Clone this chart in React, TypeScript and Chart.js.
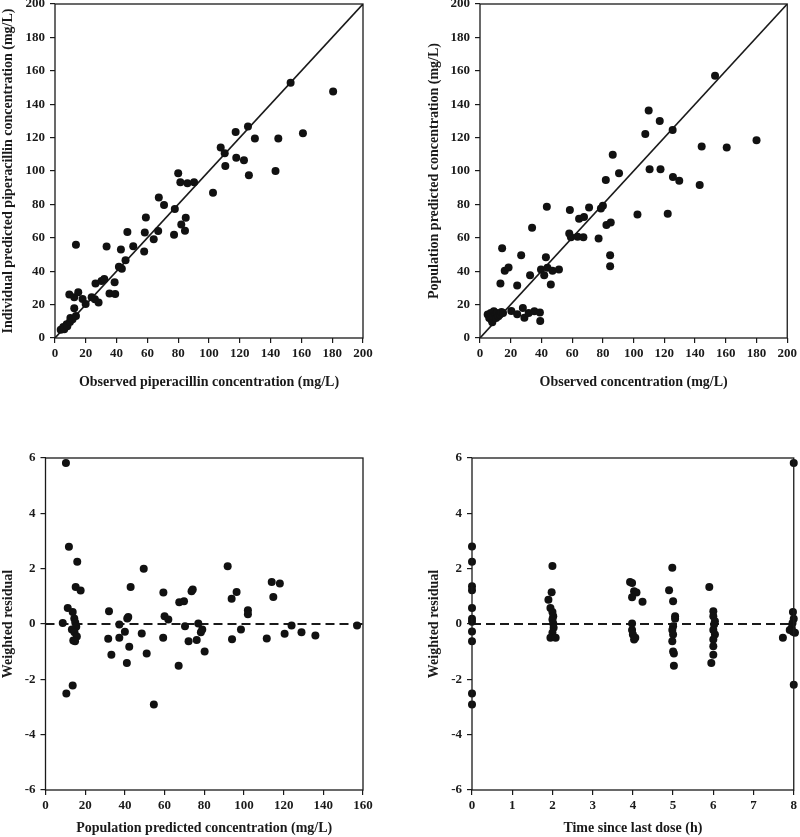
import React, { useEffect, useRef } from 'react';
import { Chart, registerables } from 'chart.js';
Chart.register(...registerables);

// Panel 1: observed vs individual predicted
const obs1 = [3.7, 5.4, 6, 7.6, 8, 9.7, 10, 11.4, 13.6, 12.5, 9.3, 12.5, 15.1, 17.9, 19.9, 23.8, 25.9, 28.3, 13.6, 26.3, 30.2, 32, 38.7, 35.4, 39.1, 33.5, 41.5, 43.4, 45.8, 42.8, 50.8, 57.9, 47, 58.3, 59, 64.1, 67, 67.4, 70.8, 77.3, 77.8, 80, 81.4, 82, 84.4, 84.9, 86, 90.3, 102.6, 107.6, 110.2, 110.6, 117.3, 117.7, 122.7, 125.3, 125.9, 129.8, 143.2, 145, 153, 161, 180.6];
const ipred1 = [5, 6.6, 5.2, 8.2, 7, 9.6, 12, 11.2, 13.2, 17.8, 26, 24.4, 27.4, 23.4, 20.4, 24.4, 23.2, 21.2, 55.8, 32.6, 34.2, 35.4, 33.4, 26.6, 26.4, 54.8, 42.6, 41.4, 46.6, 53, 55, 51.8, 63.4, 63.2, 72.2, 59.2, 64, 84.2, 79.6, 61.8, 77.2, 98.6, 93.2, 68, 64.2, 72, 92.6, 93.2, 87, 114, 110.6, 103, 123.4, 108, 106.4, 126.6, 97.4, 119.4, 100, 119.4, 152.8, 122.6, 147.6];

// Panel 2: observed vs population predicted
const obs2 = [5, 6, 6.5, 7, 7.5, 8, 8.5, 9, 10, 10.5, 11, 12, 13, 14, 15, 20.4, 24.2, 27.9, 28.9, 31.7, 35.4, 39, 39.2, 13.3, 24.2, 32.6, 39.7, 41.8, 43.9, 47.2, 51.4, 46.1, 16.1, 18.6, 14.4, 26.8, 42.9, 33.9, 43.5, 58.5, 71, 80, 78.7, 64.5, 67.7, 58.1, 59.2, 63.5, 67.3, 77.2, 82.3, 85.1, 84.7, 84.7, 81.9, 86.4, 90.5, 102.5, 107.6, 109.8, 110.4, 117, 117.5, 122.2, 125.4, 125.6, 129.7, 143, 144.3, 153, 160.6, 180];
const pred2 = [14, 12, 13, 15, 11, 9.5, 13, 16, 14, 12, 15, 13, 14, 15.5, 15, 16.2, 14.2, 18, 12.2, 15, 16, 15.2, 10.2, 32.6, 31.4, 37.6, 41, 37.6, 42, 40.2, 41, 32, 40.2, 42.2, 53.8, 49.6, 48.4, 66, 78.6, 76.6, 78.2, 79.2, 77.6, 71.4, 72.4, 62.6, 60.4, 60.6, 60.4, 59.6, 67.6, 69.2, 49.6, 43, 94.6, 109.8, 98.6, 74, 122.2, 136.2, 101, 130, 101, 74.4, 124.6, 96.4, 94.2, 91.6, 114.6, 157, 114, 118.4];

// Panel 3: population predicted vs weighted residual
const pred3 = [10.3, 11.8, 16, 15.2, 17.7, 11.2, 13.7, 8.7, 14.5, 15, 15.5, 13.3, 14.6, 15.8, 14, 14.9, 13.7, 10.5, 32, 31.6, 33.2, 37.2, 37.2, 40, 41.2, 41.7, 42.2, 41, 42.9, 48.5, 49.5, 51, 54.6, 59.4, 60, 61.9, 59.3, 67.1, 67.4, 69.8, 73.6, 74.2, 70.3, 72.1, 77, 76.2, 78.3, 80.2, 79, 91.8, 96.3, 93.8, 94, 98.5, 102, 102, 111.5, 114, 118.1, 114.8, 120.5, 124, 129, 136, 157];
const wres3 = [5.82, 2.79, 2.25, 1.34, 1.21, 0.58, 0.43, 0.04, 0.2, 0.05, -0.1, -0.2, -0.3, -0.45, -0.6, -0.62, -2.22, -2.51, 0.46, -0.53, -1.11, -0.02, -0.5, -0.28, 0.2, 0.25, -0.82, -1.41, 1.34, -0.34, 2.0, -1.07, -2.91, 1.14, 0.28, 0.16, -0.5, -1.51, 0.79, 0.82, 1.18, 1.25, -0.08, -0.62, 0.02, -0.58, -0.3, -0.99, -0.2, 2.09, 1.16, 0.91, -0.55, -0.2, 0.5, 0.35, -0.52, 1.52, 1.46, 0.98, -0.35, -0.05, -0.3, -0.42, -0.05];

// Panel 4: time since last dose vs weighted residual
const time4 = [0, 0, 0, 0, 0, 0, 0, 0, 0, 0, 0, 2, 1.98, 1.9, 1.95, 2, 2.02, 2, 2.02, 2.03, 2, 1.95, 2.08, 3.93, 3.98, 4.03, 4.09, 3.98, 4.24, 3.98, 3.98, 4, 4.03, 4.06, 4.98, 4.9, 5, 5.05, 5.05, 5, 4.98, 5, 4.98, 5, 5.02, 5.02, 5.9, 6, 6, 6.04, 6.02, 6, 6.04, 6, 6, 6, 5.95, 8, 7.98, 8, 7.97, 7.95, 7.9, 8.03, 7.98, 7.73, 8];
const wres4 = [2.8, 2.25, 1.36, 1.22, 0.58, 0.19, 0.08, -0.27, -0.62, -2.51, -2.91, 2.1, 1.15, 0.88, 0.58, 0.43, 0.28, 0.16, 0.02, -0.14, -0.32, -0.5, -0.5, 1.52, 1.48, 1.18, 1.14, 0.97, 0.8, 0.02, -0.22, -0.38, -0.56, -0.5, 2.03, 1.22, 0.82, 0.28, 0.19, -0.08, -0.22, -0.38, -0.62, -0.99, -1.07, -1.51, 1.34, 0.46, 0.28, 0.1, -0.02, -0.22, -0.38, -0.56, -0.8, -1.11, -1.41, 5.82, 0.43, 0.19, 0.04, -0.14, -0.22, -0.32, -0.28, -0.5, -2.2];

const FONT = 'Liberation Serif, Times New Roman, serif';
const INK = '#1a1a1a';
const TITLE_SIZE = 14;
const TICK_SIZE = 13;

type Box = { l: number; t: number; r: number; b: number };
type PanelProps = {
  left: number; top: number; width: number; height: number;
  area: Box; xTitleY: number; yTitleX: number;
  xs: number[]; ys: number[];
  xMin: number; xMax: number; xStep: number;
  yMin: number; yMax: number; yStep: number;
  xTitle: string; yTitle: string;
  refLine: 'identity' | 'zero';
};

const boxPlugin = {
  id: 'frameBox',
  afterDatasetsDraw(chart: any) {
    const { ctx, chartArea: a } = chart;
    ctx.save();
    ctx.strokeStyle = INK;
    ctx.lineWidth = 1.3;
    ctx.strokeRect(a.left, a.top, a.right - a.left, a.bottom - a.top);
    ctx.restore();
  },
};

function Panel(p: PanelProps) {
  const ref = useRef<HTMLCanvasElement | null>(null);
  useEffect(() => {
    if (!ref.current) return;
    const lh = TITLE_SIZE * 1.2;
    const yAxisW = p.area.l - p.left;
    const xAxisH = p.top + p.height - p.area.b;
    const yTitlePad = Math.max(0, p.yTitleX - p.left - lh / 2);
    const xTitlePad = Math.max(0, p.top + p.height - p.xTitleY - lh / 2);
    const refData = p.refLine === 'identity'
      ? [{ x: p.xMin, y: p.yMin }, { x: p.xMax, y: p.yMax }]
      : [{ x: p.xMin, y: 0 }, { x: p.xMax, y: 0 }];
    const grid = {
      display: true, drawOnChartArea: false, drawTicks: true,
      tickLength: 5, color: INK, lineWidth: 1.2,
    };
    const chart = new Chart(ref.current, {
      type: 'scatter',
      data: {
        datasets: [
          {
            data: p.xs.map((x, i) => ({ x, y: p.ys[i] })),
            pointRadius: 4,
            pointBackgroundColor: '#111',
            pointBorderWidth: 0,
            clip: false as any,
          },
          {
            data: refData,
            showLine: true,
            pointRadius: 0,
            borderColor: INK,
            borderWidth: p.refLine === 'identity' ? 1.6 : 1.8,
            borderDash: p.refLine === 'zero' ? [9, 5] : [],
          },
        ],
      },
      options: {
        animation: false,
        responsive: false,
        devicePixelRatio: 1,
        layout: {
          padding: { left: 0, top: p.area.t - p.top, right: p.left + p.width - p.area.r, bottom: 0 },
        },
        plugins: { legend: { display: false }, tooltip: { enabled: false } },
        scales: {
          x: {
            type: 'linear', min: p.xMin, max: p.xMax,
            ticks: {
              stepSize: p.xStep, autoSkip: false, maxRotation: 0, padding: 3,
              color: INK, font: { family: FONT, size: TICK_SIZE, weight: 'bold' },
              callback: (v: any) => String(v),
            },
            grid, border: { display: false },
            title: {
              display: true, text: p.xTitle, color: INK,
              font: { family: FONT, size: TITLE_SIZE, weight: 'bold' },
              padding: { top: 0, bottom: xTitlePad },
            },
            afterFit: (s: any) => { s.height = xAxisH; },
          },
          y: {
            type: 'linear', min: p.yMin, max: p.yMax,
            ticks: {
              stepSize: p.yStep, autoSkip: false, padding: 5,
              color: INK, font: { family: FONT, size: TICK_SIZE, weight: 'bold' },
              callback: (v: any) => String(v),
            },
            grid, border: { display: false },
            title: {
              display: true, text: p.yTitle, color: INK,
              font: { family: FONT, size: TITLE_SIZE, weight: 'bold' },
              padding: { top: yTitlePad, bottom: 0 },
            },
            afterFit: (s: any) => { s.width = yAxisW; },
          },
        },
      } as any,
      plugins: [boxPlugin],
    });
    return () => chart.destroy();
  }, []);
  return (
    <canvas
      ref={ref}
      width={p.width}
      height={p.height}
      style={{ position: 'absolute', left: p.left, top: p.top, width: p.width, height: p.height }}
    />
  );
}

export default function App() {
  return (
    <div style={{ position: 'absolute', left: 0, top: 0, width: 800, height: 837, background: '#fff', overflow: 'hidden' }}>
      <Panel
        left={0} top={-10} width={400} height={410}
        area={{ l: 55, t: 4, r: 363, b: 338 }} xTitleY={382} yTitleX={8}
        xs={obs1} ys={ipred1}
        xMin={0} xMax={200} xStep={20} yMin={0} yMax={200} yStep={20}
        xTitle="Observed piperacillin concentration (mg/L)"
        yTitle="Individual predicted piperacillin concentration (mg/L)"
        refLine="identity"
      />
      <Panel
        left={400} top={-10} width={400} height={410}
        area={{ l: 480, t: 4, r: 790, b: 338 }} xTitleY={382} yTitleX={434}
        xs={obs2} ys={pred2}
        xMin={0} xMax={200} xStep={20} yMin={0} yMax={200} yStep={20}
        xTitle="Observed concentration (mg/L)"
        yTitle="Population predicted concentration (mg/L)"
        refLine="identity"
      />
      <Panel
        left={0} top={420} width={400} height={417}
        area={{ l: 45.5, t: 458, r: 363, b: 790 }} xTitleY={829} yTitleX={8}
        xs={pred3} ys={wres3}
        xMin={0} xMax={160} xStep={20} yMin={-6} yMax={6} yStep={2}
        xTitle="Population predicted concentration (mg/L)"
        yTitle="Weighted residual"
        refLine="zero"
      />
      <Panel
        left={400} top={420} width={400} height={417}
        area={{ l: 472, t: 458, r: 794, b: 790 }} xTitleY={829} yTitleX={434}
        xs={time4} ys={wres4}
        xMin={0} xMax={8} xStep={1} yMin={-6} yMax={6} yStep={2}
        xTitle="Time since last dose (h)"
        yTitle="Weighted residual"
        refLine="zero"
      />
    </div>
  );
}
